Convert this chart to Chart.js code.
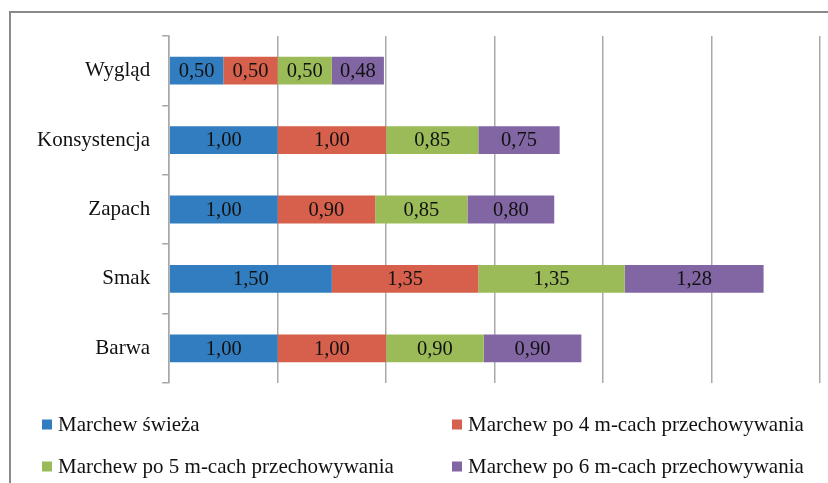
<!DOCTYPE html>
<html>
<head>
<meta charset="utf-8">
<script src="https://cdn.jsdelivr.net/npm/chart.js@4"></script>
<style>
  html, body { margin: 0; padding: 0; background: #fff; overflow: hidden; }
  #wrap { position: relative; width: 828px; height: 483px; }
  #frame { position: absolute; left: 9px; top: 11px; width: 900px; height: 600px;
           border: 2px solid #8a8a8a; box-sizing: border-box; pointer-events: none; }
  canvas { position: absolute; left: 0; top: 0; }
</style>
</head>
<body>
<div id="wrap">
  <canvas id="c" width="828" height="483"></canvas>
  <div id="frame"></div>
</div>
<script>
// Ocena sensoryczna marchwi – kategorie i wartości serii
const categories = ['Wygląd', 'Konsystencja', 'Zapach', 'Smak', 'Barwa'];
const seriesNames = [
  'Marchew świeża',
  'Marchew po 4 m-cach przechowywania',
  'Marchew po 5 m-cach przechowywania',
  'Marchew po 6 m-cach przechowywania'
];
const fresh   = [0.50, 1.00, 1.00, 1.50, 1.00];
const after4m = [0.50, 1.00, 0.90, 1.35, 1.00];
const after5m = [0.50, 0.85, 0.85, 1.35, 0.90];
const after6m = [0.48, 0.75, 0.80, 1.28, 0.90];
const xTicks  = [0, 1, 2, 3, 4, 5, 6];

const colors = ['#317dbf', '#d6604b', '#9bbb59', '#8166a3'];
const serif = '"Liberation Serif", "Times New Roman", serif';

const fmt = v => v.toFixed(2).replace('.', ',');

// Wartości wpisane w środek każdego segmentu
const barValueLabels = {
  id: 'barValueLabels',
  afterDatasetsDraw(chart) {
    const ctx = chart.ctx;
    ctx.save();
    ctx.font = '20.5px ' + serif;
    ctx.fillStyle = '#111';
    ctx.textAlign = 'center';
    ctx.textBaseline = 'middle';
    chart.data.datasets.forEach((ds, i) => {
      const meta = chart.getDatasetMeta(i);
      meta.data.forEach((bar, j) => {
        const p = bar.getCenterPoint();
        ctx.fillText(fmt(ds.data[j]), p.x, p.y + 1);
      });
    });
    ctx.restore();
  }
};

// Legenda w dwóch kolumnach pod wykresem
const gridLegend = {
  id: 'gridLegend',
  afterDraw(chart, args, opts) {
    const ctx = chart.ctx;
    ctx.save();
    ctx.font = '21px ' + serif;
    ctx.textBaseline = 'middle';
    ctx.textAlign = 'left';
    chart.data.datasets.forEach((ds, i) => {
      const x = opts.cols[i % 2];
      const y = opts.rows[Math.floor(i / 2)];
      ctx.fillStyle = ds.backgroundColor;
      ctx.fillRect(x, y - 5, 10, 10);
      ctx.fillStyle = '#111';
      ctx.fillText(ds.label, x + 16, y + 1);
    });
    ctx.restore();
  }
};

const seriesData = [fresh, after4m, after5m, after6m];

new Chart(document.getElementById('c'), {
  type: 'bar',
  data: {
    labels: categories,
    datasets: seriesData.map((d, i) => ({
      label: seriesNames[i],
      data: d,
      backgroundColor: colors[i],
      borderWidth: 0,
      barPercentage: 0.4,
      categoryPercentage: 1.0
    }))
  },
  options: {
    indexAxis: 'y',
    responsive: false,
    animation: false,
    events: [],
    layout: { padding: { left: 25, right: 8, top: 36, bottom: 100 } },
    scales: {
      x: {
        stacked: true,
        min: xTicks[0],
        max: xTicks[xTicks.length - 1],
        afterBuildTicks: axis => { axis.ticks = xTicks.map(v => ({ value: v })); },
        ticks: { display: false },
        grid: { color: '#a9a9a9', lineWidth: 1.5, drawTicks: false },
        border: { display: false }
      },
      y: {
        stacked: true,
        ticks: {
          font: { family: serif, size: 21 },
          color: '#111',
          padding: 12
        },
        grid: {
          offset: true,
          drawOnChartArea: false,
          drawTicks: true,
          tickLength: 7,
          color: '#a9a9a9',
          lineWidth: 1.5
        },
        border: { display: true, color: '#a9a9a9', width: 1.5 }
      }
    },
    plugins: {
      legend: { display: false },
      tooltip: { enabled: false },
      gridLegend: { cols: [42, 452], rows: [424.5, 466.5] }
    }
  },
  plugins: [barValueLabels, gridLegend]
});
</script>
</body>
</html>
